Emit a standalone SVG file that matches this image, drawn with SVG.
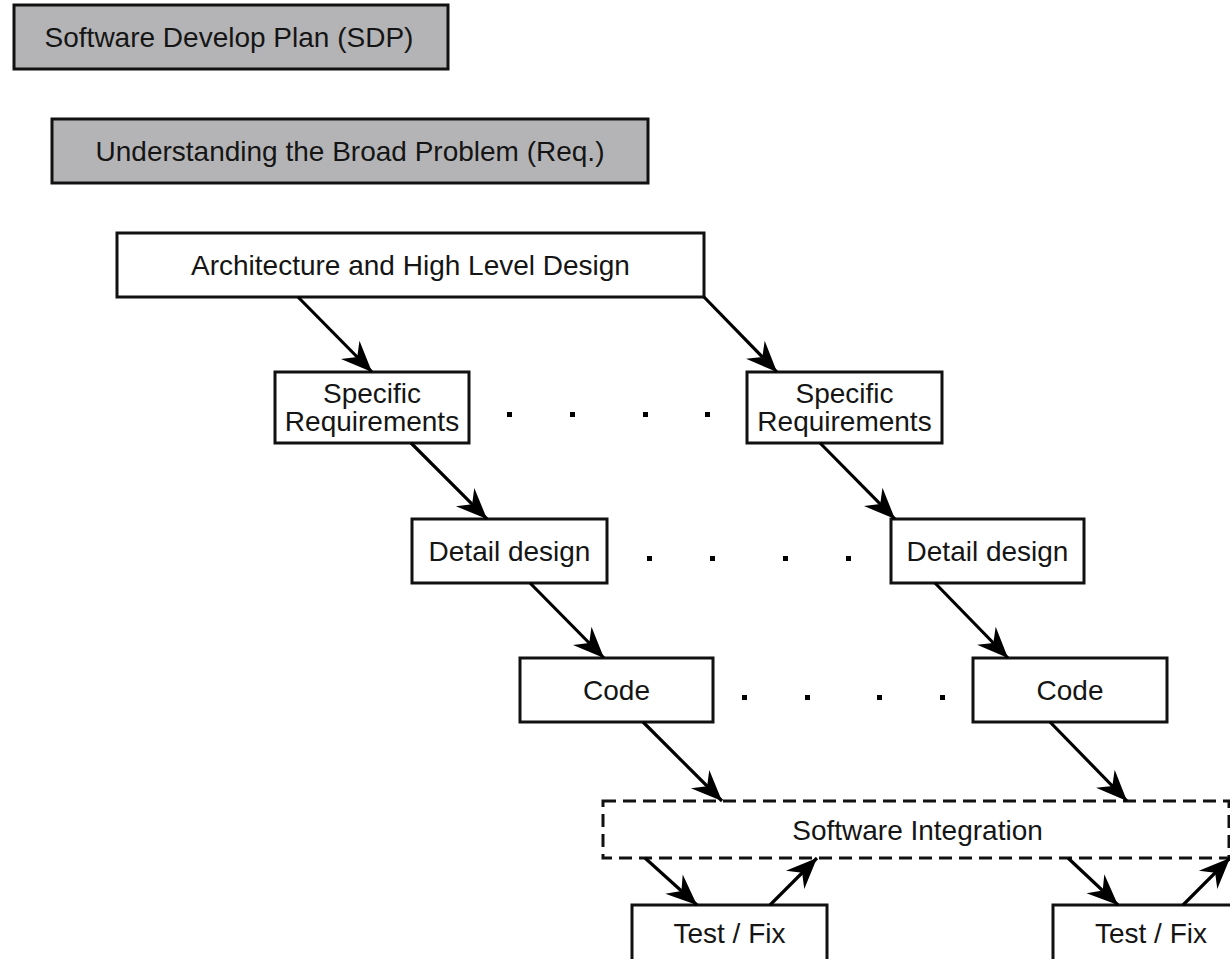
<svg xmlns="http://www.w3.org/2000/svg" width="1230" height="959" viewBox="0 0 1230 959">
  <defs>
    <style>
      .box { fill: #ffffff; stroke: #111111; stroke-width: 3; }
      .phase { fill: #b4b4b6; stroke: #111111; stroke-width: 3; }
      .dashed { fill: none; stroke: #111111; stroke-width: 3; stroke-dasharray: 13 7; }
      .label { font-family: "Liberation Sans", Arial, Helvetica, sans-serif; font-size: 28px; fill: #151515; text-anchor: middle; }
      .edge { fill: none; stroke: #000000; stroke-width: 3.2; marker-end: url(#head); }
      .dot { fill: #000000; }
    </style>
    <!-- swept-back filled arrowhead, tip at the line end -->
    <marker id="head" markerUnits="userSpaceOnUse" viewBox="-32 -15 34 30" markerWidth="34" markerHeight="30" refX="0" refY="0" orient="auto">
      <path d="M0,0 L-31,-13 L-21,0 L-31,13 Z" fill="#000000"/>
    </marker>
  </defs>

  <rect width="1230" height="959" fill="#ffffff"/>

  <!-- planning phases -->
  <g id="sdp">
    <rect class="phase" x="14" y="5" width="434" height="64"/>
    <text class="label" x="229" y="47">Software Develop Plan (SDP)</text>
  </g>
  <g id="requirements">
    <rect class="phase" x="52" y="119" width="596" height="64"/>
    <text class="label" x="350" y="161">Understanding the Broad Problem (Req.)</text>
  </g>

  <g id="architecture">
    <rect class="box" x="117" y="233" width="587" height="64"/>
    <text class="label" x="410.5" y="275">Architecture and High Level Design</text>
  </g>

  <!-- left branch -->
  <g id="spec-req-1">
    <rect class="box" x="275" y="372" width="194" height="71"/>
    <text class="label" x="372" y="403">Specific</text>
    <text class="label" x="372" y="431">Requirements</text>
  </g>
  <g id="detail-1">
    <rect class="box" x="412" y="519" width="195" height="64"/>
    <text class="label" x="509.5" y="561">Detail design</text>
  </g>
  <g id="code-1">
    <rect class="box" x="520" y="658" width="193" height="64"/>
    <text class="label" x="616.5" y="700">Code</text>
  </g>

  <!-- right branch -->
  <g id="spec-req-2">
    <rect class="box" x="747" y="372" width="195" height="71"/>
    <text class="label" x="844.5" y="403">Specific</text>
    <text class="label" x="844.5" y="431">Requirements</text>
  </g>
  <g id="detail-2">
    <rect class="box" x="891" y="519" width="193" height="64"/>
    <text class="label" x="987.5" y="561">Detail design</text>
  </g>
  <g id="code-2">
    <rect class="box" x="973" y="658" width="194" height="64"/>
    <text class="label" x="1070" y="700">Code</text>
  </g>

  <g id="integration">
    <rect class="dashed" x="603" y="801" width="626" height="57"/>
    <text class="label" x="917.5" y="840">Software Integration</text>
  </g>

  <g id="test-fix-1">
    <rect class="box" x="632" y="905" width="195" height="70"/>
    <text class="label" x="729.5" y="943">Test / Fix</text>
  </g>
  <g id="test-fix-2">
    <rect class="box" x="1053" y="905" width="196" height="70"/>
    <text class="label" x="1151" y="943">Test / Fix</text>
  </g>

  <!-- ellipsis dots between parallel branches -->
  <g id="ellipses">
    <rect class="dot" x="507" y="412" width="5" height="5"/>
    <rect class="dot" x="570" y="412" width="5" height="5"/>
    <rect class="dot" x="643" y="412" width="5" height="5"/>
    <rect class="dot" x="705" y="412" width="5" height="5"/>
    <rect class="dot" x="647" y="556" width="5" height="5"/>
    <rect class="dot" x="710" y="556" width="5" height="5"/>
    <rect class="dot" x="783" y="556" width="5" height="5"/>
    <rect class="dot" x="846" y="556" width="5" height="5"/>
    <rect class="dot" x="742" y="695" width="5" height="5"/>
    <rect class="dot" x="805" y="695" width="5" height="5"/>
    <rect class="dot" x="877" y="695" width="5" height="5"/>
    <rect class="dot" x="940" y="695" width="5" height="5"/>
  </g>

  <g id="connectors">
    <line class="edge" x1="298" y1="297" x2="372" y2="372"/>
    <line class="edge" x1="704" y1="297" x2="777" y2="372"/>
    <line class="edge" x1="411" y1="443" x2="487" y2="519"/>
    <line class="edge" x1="820" y1="443" x2="895" y2="519"/>
    <line class="edge" x1="530" y1="583" x2="604" y2="658"/>
    <line class="edge" x1="935" y1="583" x2="1008" y2="658"/>
    <line class="edge" x1="643" y1="722" x2="722" y2="801"/>
    <line class="edge" x1="1050" y1="722" x2="1127" y2="801"/>
    <line class="edge" x1="645" y1="858" x2="697" y2="905"/>
    <line class="edge" x1="770" y1="905" x2="817" y2="858"/>
    <line class="edge" x1="1068" y1="858" x2="1118" y2="905"/>
    <line class="edge" x1="1183" y1="905" x2="1230" y2="858"/>
  </g>
</svg>
